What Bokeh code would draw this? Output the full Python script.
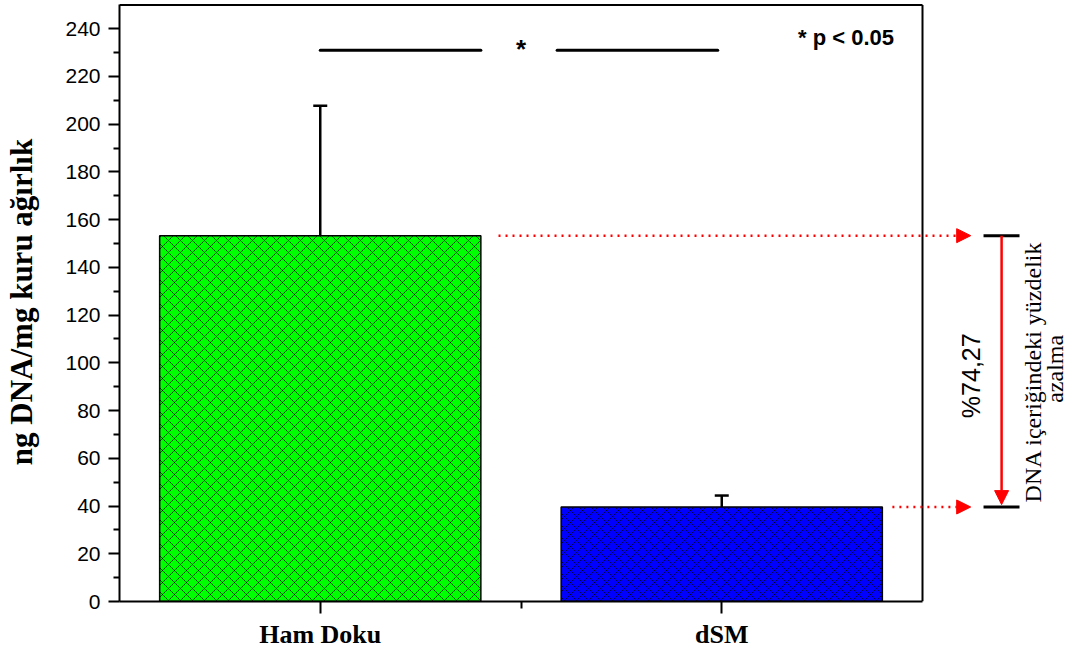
import math
from bokeh.plotting import figure
from bokeh.models import (Range1d, FixedTicker, Label, Arrow, NormalHead, Whisker,
                          TeeHead, ColumnDataSource)
from bokeh.embed import file_html
from bokeh.resources import INLINE

# ---------------- data ----------------
categories = ["Ham Doku", "dSM"]
means = [153.3, 39.6]
sds = [54.4, 4.8]
bar_colors = ["#00FF00", "#0000FF"]
y_ticks = [0, 20, 40, 60, 80, 100, 120, 140, 160, 180, 200, 220, 240]
y_minor = [10, 30, 50, 70, 90, 110, 130, 150, 170, 190, 210, 230]
sig_level = 231
sig_text = "* p < 0.05"
pct_text = "%74,27"
reduction_line1 = "DNA içeriğindeki  yüzdelik"
reduction_line2 = "azalma"
y_label = "ng DNA/mg kuru ağırlık"

# ---------------- layout ----------------
W, H = 1076, 654
LEFT, BOTTOM, TOP = 119, 53, 2
unit_px = 401.5                      # pixels per category slot
X_END = (W - LEFT) / unit_px

xs = [i + 0.5 for i in range(len(categories))]
uppers = [m + s for m, s in zip(means, sds)]
src = ColumnDataSource(dict(x=xs, top=means, upper=uppers, color=bar_colors))

p = figure(width=W, height=H, x_range=Range1d(0, X_END), y_range=Range1d(0, 251),
           output_backend="svg", toolbar_location=None,
           min_border_left=LEFT, min_border_right=0, min_border_top=TOP,
           min_border_bottom=BOTTOM)
p.outline_line_color = None
p.xgrid.visible = False
p.ygrid.visible = False
p.background_fill_color = "white"
p.border_fill_color = "white"

# bars
p.vbar(x="x", top="top", width=0.8, source=src, fill_color="color",
       line_color="black", line_width=1.5,
       hatch_pattern="diagonal_cross", hatch_color="black", hatch_alpha=0.7,
       hatch_scale=12, hatch_weight=1)

# error bars (upper only)
p.add_layout(Whisker(base="x", lower="top", upper="upper", source=src,
                     line_width=2.5, line_color="black",
                     upper_head=TeeHead(size=14, line_width=2.5, line_color="black"),
                     lower_head=None))

# frame top / right
p.segment(x0=[0, 2], y0=[250, 0], x1=[2, 2], y1=[250, 250],
          line_color="black", line_width=2)

# significance bracket
p.segment(x0=[0.5, 1.09], y0=[sig_level, sig_level], x1=[0.9, 1.49],
          y1=[sig_level, sig_level], line_color="black", line_width=3,
          line_cap="round")
p.add_layout(Label(x=1.0, y=231.5, text="*", text_align="center",
                   text_baseline="middle", text_font="Liberation Sans",
                   text_font_style="bold", text_font_size="26px",
                   text_color="black"))
p.add_layout(Label(x=1.69, y=236.4, text=sig_text, text_align="left",
                   text_baseline="middle", text_font="Liberation Sans",
                   text_font_style="bold", text_font_size="22px",
                   text_color="black"))

# dotted arrows to the right
for x0, yv in [(0.944, means[0]), (1.925, means[1])]:
    p.add_layout(Arrow(x_start=x0, y_start=yv, x_end=2.12, y_end=yv,
                       line_color="red", line_width=2.5, line_dash="2 5",
                       end=NormalHead(size=14, fill_color="red",
                                      line_color="red", line_width=1)))

# bracket caps
p.segment(x0=[2.152, 2.152], y0=[means[0], means[1]], x1=[2.2416, 2.2416],
          y1=[means[0], means[1]], line_color="black", line_width=3)
# red vertical arrow
p.add_layout(Arrow(x_start=2.197, y_start=means[0], x_end=2.197, y_end=means[1] + 1,
                   line_color="red", line_width=2.5,
                   end=NormalHead(size=14, fill_color="red", line_color="red",
                                  line_width=1)))

p.add_layout(Label(x=2.122, y=94.6, text=pct_text, angle=math.pi / 2,
                   text_align="center", text_baseline="middle",
                   text_font="Liberation Sans", text_font_size="25px",
                   text_color="black"))
p.add_layout(Label(x=2.274, y=97.5, text=reduction_line1, angle=math.pi / 2,
                   text_align="center", text_baseline="middle",
                   text_font="Liberation Serif", text_font_size="24px",
                   text_color="black"))
p.add_layout(Label(x=2.329, y=97.5, text=reduction_line2, angle=math.pi / 2,
                   text_align="center", text_baseline="middle",
                   text_font="Liberation Serif", text_font_size="24px",
                   text_color="black"))

# axes
xa = p.xaxis[0]
xa.ticker = FixedTicker(ticks=xs, minor_ticks=[1.0])
xa.major_label_overrides = {x: c for x, c in zip(xs, categories)}
xa.bounds = (0, 2)
xa.axis_line_width = 2
xa.major_tick_line_width = 2
xa.minor_tick_line_width = 2
xa.major_tick_out = 12
xa.major_tick_in = 0
xa.minor_tick_out = 7
xa.minor_tick_in = 0
xa.major_label_text_font = "Liberation Serif"
xa.major_label_text_font_style = "bold"
xa.major_label_text_font_size = "26px"
xa.major_label_text_color = "black"
xa.major_label_standoff = 6

ya = p.yaxis[0]
ya.ticker = FixedTicker(ticks=y_ticks, minor_ticks=y_minor)
ya.bounds = (0, 250)
ya.axis_line_width = 2
ya.major_tick_line_width = 2
ya.minor_tick_line_width = 2
ya.major_tick_out = 11
ya.major_tick_in = 0
ya.minor_tick_out = 6
ya.minor_tick_in = 0
ya.major_label_text_font = "Liberation Sans"
ya.major_label_text_font_size = "21px"
ya.major_label_text_color = "black"
ya.major_label_standoff = 8
ya.axis_label = y_label
ya.axis_label_text_font = "Liberation Serif"
ya.axis_label_text_font_style = "bold"
ya.axis_label_text_font_size = "31px"
ya.axis_label_text_color = "black"
ya.axis_label_standoff = 23

open("out.html", "w").write(file_html(p, INLINE))
